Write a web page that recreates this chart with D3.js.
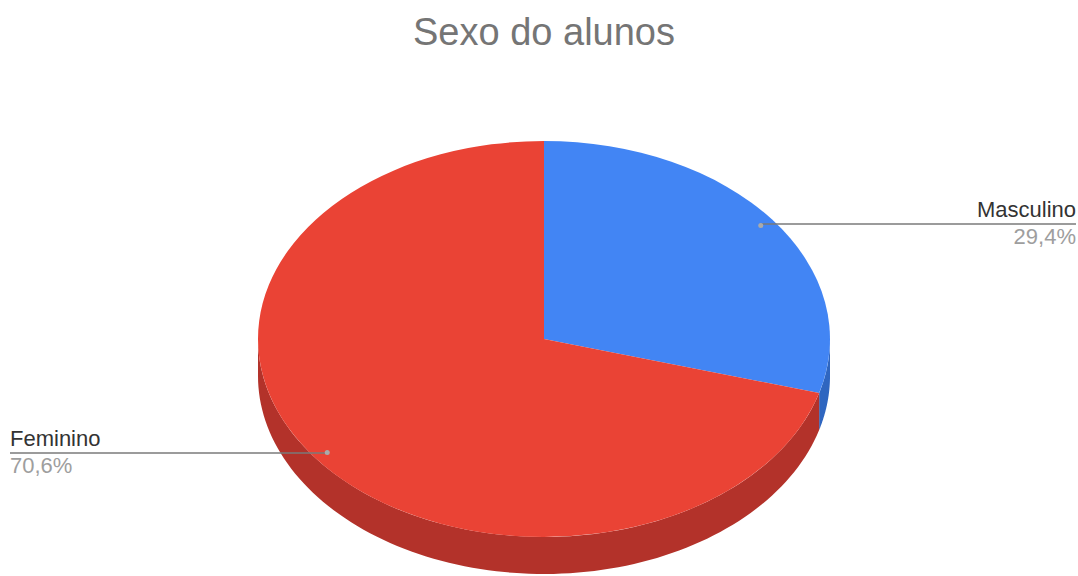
<!DOCTYPE html>
<html>
<head>
<meta charset="utf-8">
<script src="https://cdn.jsdelivr.net/npm/d3@7"></script>
<style>
  html, body { margin: 0; padding: 0; background: #fff; }
  svg { display: block; font-family: "Liberation Sans", Arial, sans-serif; }
</style>
</head>
<body>
<svg id="chart" width="1078" height="576"></svg>
<script>
// Student gender breakdown
const categories = ["Masculino", "Feminino"];
const values = [29.4, 70.6];
const percentLabels = ["29,4%", "70,6%"];
const topColors = ["#4285f4", "#ea4335"];
const sideColors = ["#2f66c0", "#b3322a"];

const W = 1078, H = 576;
const cx = 544, cy = 339;
const rx = 286, ry = 198;
const depth = 37;

const svg = d3.select("#chart");

svg.append("text")
  .attr("x", cx).attr("y", 45)
  .attr("text-anchor", "middle")
  .attr("font-size", 38)
  .attr("fill", "#757575")
  .text("Sexo do alunos");

const pie = d3.pie().sort(null).value(d => d)(values);

// ellipse projection of an angle (clockwise from 12 o'clock)
const px = (a, r = 1) => cx + rx * r * Math.sin(a);
const py = (a, r = 1) => cy - ry * r * Math.cos(a);

// side walls: only the front half (angles between PI/2 and 3PI/2) is visible
const sides = svg.append("g");
pie.forEach((s, i) => {
  const a0 = Math.max(s.startAngle, Math.PI / 2);
  const a1 = Math.min(s.endAngle, 3 * Math.PI / 2);
  if (a1 <= a0) return;
  const steps = d3.range(0, 101).map(k => a0 + (a1 - a0) * k / 100);
  const top = steps.map(a => [px(a), py(a)]);
  const bottom = steps.slice().reverse().map(a => [px(a), py(a) + depth]);
  sides.append("path")
    .attr("d", d3.line()(top.concat(bottom)) + "Z")
    .attr("fill", sideColors[i]);
});

// top faces drawn as circular arcs squashed into an ellipse
const arc = d3.arc().innerRadius(0).outerRadius(rx);
const topG = svg.append("g")
  .attr("transform", `translate(${cx},${cy}) scale(1,${ry / rx})`);
topG.selectAll("path")
  .data(pie)
  .join("path")
  .attr("d", arc)
  .attr("fill", (d, i) => topColors[i]);

// callout labels
const labelSpec = [
  { side: "right", textX: 1076, lineY: 224 },
  { side: "left", textX: 10, lineY: 453 }
];
const labels = svg.append("g");
pie.forEach((s, i) => {
  const mid = (s.startAngle + s.endAngle) / 2;
  const dx = px(mid, 0.95), dy = py(mid, 0.95);
  const spec = labelSpec[i];
  const right = spec.side === "right";
  labels.append("line")
    .attr("x1", dx).attr("y1", spec.lineY)
    .attr("x2", spec.textX).attr("y2", spec.lineY)
    .attr("stroke", "#7a7a7a").attr("stroke-width", 1.3);
  labels.append("circle")
    .attr("cx", dx).attr("cy", dy).attr("r", 2.5)
    .attr("fill", "#aaaaaa");
  labels.append("text")
    .attr("x", spec.textX).attr("y", spec.lineY - 7)
    .attr("text-anchor", right ? "end" : "start")
    .attr("font-size", 22)
    .attr("fill", "#333333")
    .text(categories[i]);
  labels.append("text")
    .attr("x", spec.textX).attr("y", spec.lineY + 20)
    .attr("text-anchor", right ? "end" : "start")
    .attr("font-size", 22)
    .attr("fill", "#9e9e9e")
    .text(percentLabels[i]);
});
</script>
</body>
</html>
